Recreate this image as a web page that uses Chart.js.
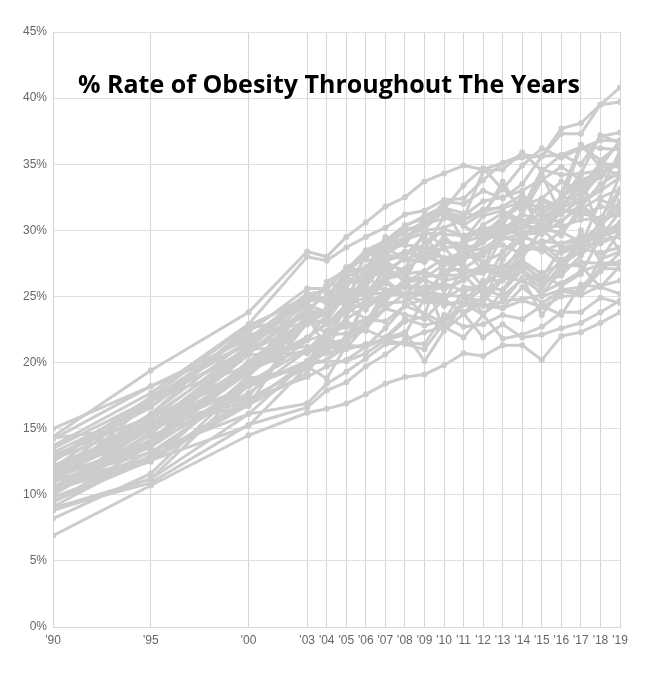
<!DOCTYPE html>
<html>
<head>
<meta charset="utf-8">
<script src="https://cdn.jsdelivr.net/npm/chart.js@4/dist/chart.umd.min.js"></script>
<style>
  html, body { margin: 0; padding: 0; background: #fff; }
  #wrap { position: relative; width: 651px; height: 682px; }
  #title { position: absolute; left: 78px; top: 66px; font-family: "Open Sans", sans-serif; font-weight: 700; font-size: 25px; line-height: normal; color: #000; white-space: nowrap; }
</style>
</head>
<body>
<div id="wrap">
  <canvas id="c" width="651" height="682"></canvas>
  <div id="title">% Rate of Obesity Throughout The Years</div>
</div>
<script>
const years = [1990, 1995, 2000, 2003, 2004, 2005, 2006, 2007, 2008, 2009, 2010, 2011, 2012, 2013, 2014, 2015, 2016, 2017, 2018, 2019];
const yTicks = [0, 5, 10, 15, 20, 25, 30, 35, 40, 45];

const AL = [13.2, 16.7, 22.6, 23.4, 26.1, 27.0, 28.4, 28.9, 30.1, 30.3, 32.2, 32.0, 33.0, 32.4, 33.5, 35.6, 35.7, 36.3, 36.2, 36.1];
const AK = [12.1, 14.9, 19.3, 23.5, 23.7, 26.0, 26.2, 27.3, 26.1, 25.0, 24.5, 27.4, 25.7, 28.4, 29.7, 29.8, 31.4, 34.2, 29.5, 30.5];
const AZ = [11.1, 13.2, 18.2, 20.1, 20.7, 21.1, 22.8, 25.4, 25.1, 25.5, 24.3, 24.7, 26.0, 26.8, 28.9, 28.4, 29.0, 29.5, 29.5, 31.4];
const AR = [12.7, 17.3, 19.7, 24.0, 25.1, 26.4, 26.0, 28.7, 29.5, 30.5, 30.9, 30.9, 34.5, 34.6, 35.9, 34.5, 35.7, 35.0, 37.1, 37.4];
const CA = [10.0, 14.2, 19.2, 23.2, 22.2, 22.7, 23.3, 23.1, 24.3, 24.8, 24.7, 23.8, 25.0, 24.1, 24.7, 24.2, 25.0, 25.1, 25.8, 26.2];
const CO = [6.9, 10.7, 14.5, 16.2, 16.5, 16.9, 17.6, 18.4, 18.9, 19.1, 19.8, 20.7, 20.5, 21.3, 21.3, 20.2, 22.0, 22.3, 23.0, 23.8];
const CT = [10.4, 12.8, 16.9, 20.1, 20.1, 20.1, 20.7, 21.7, 21.4, 21.0, 23.0, 24.5, 25.6, 25.0, 26.3, 25.3, 26.0, 26.9, 27.4, 27.4];
const DE = [14.3, 15.2, 16.7, 23.5, 21.1, 23.5, 26.0, 28.2, 27.8, 27.6, 28.7, 28.8, 26.9, 31.1, 30.7, 29.7, 30.7, 31.8, 33.5, 34.4];
const DC = [12.2, 15.2, 20.6, 20.7, 21.5, 21.7, 22.5, 21.8, 22.3, 20.1, 22.4, 23.7, 21.9, 22.9, 21.9, 22.1, 22.6, 23.0, 23.8, 24.7];
const FL = [10.1, 15.2, 18.2, 19.9, 22.4, 22.8, 23.1, 24.1, 25.2, 26.5, 26.6, 26.6, 25.2, 26.4, 26.2, 26.8, 27.4, 28.4, 30.7, 28.4];
const GA = [10.1, 14.7, 20.9, 23.0, 23.2, 26.5, 27.1, 28.7, 27.8, 27.7, 29.6, 28.0, 29.1, 30.3, 30.5, 30.7, 31.4, 31.6, 32.5, 33.1];
const HI = [8.9, 10.9, 15.3, 16.6, 17.9, 18.5, 19.7, 20.6, 21.7, 22.3, 22.7, 21.9, 23.6, 21.8, 22.1, 22.7, 23.8, 23.8, 24.9, 24.5];
const ID = [10.6, 13.6, 18.5, 21.0, 21.5, 24.5, 24.1, 25.1, 25.2, 25.1, 26.9, 27.1, 26.8, 29.6, 28.9, 28.6, 27.4, 29.3, 29.3, 29.5];
const IL = [12.1, 15.3, 20.9, 22.9, 23.2, 25.1, 25.1, 26.4, 26.9, 28.2, 28.7, 27.1, 28.1, 29.4, 29.3, 30.8, 31.6, 31.1, 31.8, 31.6];
const IN = [14.2, 18.2, 21.3, 25.0, 25.5, 27.2, 27.8, 27.4, 27.0, 30.0, 30.2, 30.8, 31.4, 31.8, 32.7, 31.3, 32.5, 33.6, 34.1, 35.3];
const IA = [13.5, 17.2, 20.8, 23.9, 23.9, 25.4, 25.7, 27.7, 26.7, 28.5, 29.1, 29.0, 30.4, 31.3, 30.4, 32.1, 32.0, 36.4, 35.3, 36.5];
const KS = [11.4, 13.9, 20.1, 23.2, 23.0, 23.9, 25.9, 27.7, 28.1, 28.8, 30.1, 29.6, 29.8, 30.0, 31.3, 34.2, 31.2, 32.4, 34.4, 35.2];
const KY = [12.7, 16.6, 22.3, 25.6, 25.6, 27.2, 28.0, 28.7, 30.3, 31.1, 31.8, 30.4, 31.3, 33.2, 31.6, 34.6, 34.2, 34.3, 37.2, 36.6];
const LA = [12.5, 17.4, 22.8, 24.8, 24.8, 27.0, 27.1, 29.5, 28.9, 31.0, 31.6, 33.4, 34.7, 33.1, 34.9, 36.2, 35.5, 36.2, 36.8, 36.8];
const ME = [11.3, 13.7, 19.7, 21.9, 23.0, 22.7, 23.1, 25.2, 26.0, 26.4, 27.4, 27.8, 28.4, 28.9, 28.2, 30.0, 29.9, 29.1, 30.4, 31.7];
const MD = [11.2, 15.8, 19.5, 21.0, 22.3, 24.4, 24.9, 26.3, 26.7, 26.9, 27.9, 28.3, 27.6, 28.3, 29.6, 28.9, 29.9, 31.3, 30.9, 31.2];
const MA = [8.8, 11.2, 16.1, 16.9, 18.4, 19.3, 20.3, 21.4, 21.5, 21.4, 23.6, 22.7, 22.9, 23.6, 23.3, 24.3, 23.6, 25.9, 25.7, 25.2];
const MI = [15.0, 18.2, 21.8, 25.2, 25.4, 24.4, 26.2, 28.2, 29.5, 30.3, 31.7, 31.3, 31.1, 31.5, 30.7, 31.2, 32.5, 32.3, 33.0, 36.0];
const MN = [10.5, 15.0, 17.4, 23.0, 23.1, 23.7, 24.7, 26.0, 25.2, 25.4, 24.8, 25.7, 25.7, 25.5, 27.6, 26.1, 27.8, 28.4, 30.1, 30.1];
const MS = [14.4, 19.4, 23.8, 28.4, 28.0, 29.5, 30.6, 31.8, 32.5, 33.7, 34.3, 34.9, 34.6, 35.1, 35.5, 35.6, 37.3, 37.3, 39.5, 40.8];
const MO = [12.0, 17.2, 21.6, 23.6, 23.9, 24.9, 27.2, 28.2, 29.1, 30.6, 31.4, 30.3, 29.6, 30.4, 30.2, 32.4, 31.7, 32.5, 35.0, 35.0];
const MT = [9.5, 12.6, 15.2, 19.7, 18.8, 21.3, 21.2, 22.6, 24.3, 23.7, 23.0, 24.6, 24.3, 24.6, 26.4, 23.6, 25.5, 25.3, 26.9, 28.3];
const NE = [10.4, 14.6, 20.6, 24.6, 24.9, 26.9, 26.9, 26.5, 27.1, 28.1, 27.4, 28.4, 28.6, 29.6, 30.2, 31.4, 32.0, 32.8, 34.1, 34.1];
const NV = [9.5, 13.3, 16.1, 20.1, 21.8, 21.2, 25.0, 24.6, 26.4, 26.4, 22.4, 24.5, 26.2, 26.2, 27.7, 26.7, 25.8, 26.7, 29.5, 30.0];
const NH = [10.2, 14.5, 17.2, 19.7, 22.0, 23.1, 22.4, 25.1, 25.2, 26.3, 25.5, 26.2, 27.3, 26.7, 27.4, 26.3, 26.6, 28.1, 29.6, 30.6];
const NJ = [9.0, 11.2, 18.3, 19.9, 20.1, 22.1, 22.6, 24.1, 23.6, 23.3, 24.8, 23.7, 24.6, 26.3, 26.9, 25.6, 27.4, 27.3, 25.7, 27.3];
const NM = [8.2, 11.6, 18.8, 19.6, 20.9, 21.7, 22.9, 25.1, 25.7, 25.6, 25.6, 26.3, 27.1, 26.4, 28.4, 28.8, 28.3, 28.8, 32.3, 31.7];
const NY = [10.5, 13.9, 17.7, 20.9, 22.1, 22.2, 22.9, 25.5, 25.1, 24.6, 24.5, 24.5, 23.6, 25.4, 27.0, 25.0, 25.5, 25.7, 27.1, 27.1];
const NC = [11.5, 17.2, 22.1, 23.0, 24.1, 25.9, 26.6, 28.7, 29.5, 30.1, 28.6, 29.1, 29.6, 29.4, 29.7, 30.1, 31.8, 32.1, 33.0, 34.0];
const ND = [11.4, 15.2, 19.8, 23.1, 24.0, 25.5, 25.2, 27.0, 27.8, 28.4, 27.9, 27.8, 29.7, 31.0, 32.2, 31.0, 31.9, 33.2, 35.1, 34.8];
const OH = [10.8, 17.1, 21.0, 24.9, 24.9, 24.3, 28.4, 28.1, 29.3, 29.8, 29.7, 29.6, 30.1, 30.4, 32.6, 29.8, 31.5, 33.8, 34.0, 35.5];
const OK = [12.1, 14.0, 19.6, 24.4, 23.8, 26.8, 28.1, 28.8, 29.9, 30.6, 31.3, 31.1, 32.2, 32.5, 33.0, 33.9, 32.8, 36.5, 34.8, 36.8];
const OR = [10.6, 14.0, 21.0, 21.2, 21.2, 21.8, 24.8, 26.3, 25.0, 23.6, 27.6, 26.7, 27.3, 26.5, 27.9, 30.1, 28.7, 29.0, 29.9, 29.9];
const PA = [13.0, 15.9, 20.9, 23.7, 23.9, 25.3, 24.0, 27.8, 28.4, 28.1, 29.2, 28.6, 29.1, 30.0, 30.2, 30.3, 30.3, 30.8, 30.9, 33.1];
const RI = [9.8, 12.6, 16.8, 19.2, 21.4, 21.0, 21.4, 21.7, 22.1, 24.9, 26.0, 25.4, 25.7, 27.3, 27.0, 26.0, 26.6, 30.0, 27.7, 30.0];
const SC = [11.8, 15.7, 21.3, 25.2, 24.5, 27.0, 28.5, 29.2, 30.1, 30.1, 31.5, 30.8, 31.6, 31.7, 32.1, 31.7, 32.3, 34.3, 34.5, 34.3];
const SD = [10.4, 12.5, 19.0, 22.9, 23.8, 25.5, 25.4, 26.5, 28.1, 29.6, 27.7, 28.1, 28.1, 29.9, 29.8, 30.4, 29.6, 31.9, 30.1, 33.0];
const TN = [11.5, 16.1, 22.7, 25.0, 24.5, 25.6, 28.0, 29.2, 30.4, 30.9, 31.7, 29.2, 31.1, 33.7, 31.2, 33.8, 34.8, 33.8, 34.4, 35.0];
const TX = [11.6, 16.1, 21.7, 24.6, 25.8, 26.1, 26.1, 28.6, 28.9, 28.7, 31.0, 30.4, 29.2, 30.9, 31.9, 32.4, 33.7, 33.0, 34.8, 34.8];
const UT = [9.1, 13.0, 18.4, 19.8, 20.2, 21.2, 21.2, 21.8, 23.1, 23.5, 22.5, 24.4, 24.3, 24.1, 25.7, 24.5, 25.4, 25.2, 27.8, 28.4];
const VT = [11.0, 12.7, 17.2, 18.9, 19.7, 20.2, 21.2, 21.9, 23.3, 22.8, 23.2, 25.4, 23.7, 24.7, 24.8, 25.1, 27.1, 27.6, 27.5, 27.6];
const VA = [11.3, 14.9, 18.2, 21.7, 23.7, 25.1, 25.1, 25.3, 25.8, 25.7, 26.0, 29.2, 27.4, 27.2, 28.5, 29.2, 29.0, 29.2, 30.4, 32.2];
const WA = [9.4, 13.8, 19.3, 21.7, 22.1, 23.3, 24.2, 25.4, 26.0, 26.9, 26.2, 26.5, 26.8, 27.2, 27.3, 26.4, 28.6, 28.6, 28.3, 28.7];
const WV = [13.7, 17.7, 22.9, 28.0, 27.7, 28.7, 29.5, 30.2, 31.2, 31.5, 32.3, 32.4, 33.8, 35.1, 35.7, 35.6, 37.7, 38.1, 39.5, 39.7];
const WI = [12.7, 15.5, 19.4, 21.9, 22.9, 24.4, 26.6, 25.3, 26.1, 29.2, 26.9, 27.7, 29.7, 29.8, 31.2, 30.7, 30.7, 32.0, 30.6, 34.2];
const WY = [10.6, 12.8, 17.2, 19.7, 21.6, 24.2, 23.3, 24.5, 24.6, 25.4, 25.1, 25.0, 24.6, 27.8, 29.5, 29.0, 27.7, 28.8, 29.0, 29.7];

const stateNames = ["AL","AK","AZ","AR","CA","CO","CT","DE","DC","FL","GA","HI","ID","IL","IN","IA","KS","KY","LA","ME","MD","MA","MI","MN","MS","MO","MT","NE","NV","NH","NJ","NM","NY","NC","ND","OH","OK","OR","PA","RI","SC","SD","TN","TX","UT","VT","VA","WA","WV","WI","WY"];
const stateValues = [AL,AK,AZ,AR,CA,CO,CT,DE,DC,FL,GA,HI,ID,IL,IN,IA,KS,KY,LA,ME,MD,MA,MI,MN,MS,MO,MT,NE,NV,NH,NJ,NM,NY,NC,ND,OH,OK,OR,PA,RI,SC,SD,TN,TX,UT,VT,VA,WA,WV,WI,WY];

const lineColor = 'rgb(204,204,204)';

const datasets = stateNames.map((name, i) => ({
  label: name,
  data: years.map((yr, j) => ({ x: yr, y: stateValues[i][j] })),
  borderColor: lineColor,
  backgroundColor: lineColor,
  borderWidth: 3,
  pointRadius: 3,
  pointBorderWidth: 0,
  pointBackgroundColor: lineColor,
  tension: 0,
  fill: false
}));

new Chart(document.getElementById('c'), {
  type: 'line',
  data: { datasets },
  options: {
    responsive: false,
    animation: false,
    events: [],
    layout: { padding: { left: 0, top: 32, right: 31, bottom: 27 } },
    plugins: { legend: { display: false }, tooltip: { enabled: false }, title: { display: false } },
    scales: {
      x: {
        type: 'linear',
        min: 1990,
        max: 2019,
        afterBuildTicks: (axis) => { axis.ticks = years.map(v => ({ value: v })); },
        afterFit: (axis) => { axis.height = 28; },
        grid: { color: '#d6d6d6', drawTicks: false },
        border: { color: '#d6d6d6' },
        ticks: {
          autoSkip: false,
          maxRotation: 0,
          padding: 6,
          color: '#666',
          font: { family: 'Liberation Sans, Arial, sans-serif', size: 12 },
          callback: (v) => "'" + String(v).slice(2)
        }
      },
      y: {
        min: 0,
        max: 45,
        afterBuildTicks: (axis) => { axis.ticks = yTicks.map(v => ({ value: v })); },
        afterFit: (axis) => { axis.width = 53; },
        grid: { color: '#e0e0e0', drawTicks: false },
        border: { color: '#d6d6d6' },
        ticks: {
          padding: 6,
          color: '#666',
          font: { family: 'Liberation Sans, Arial, sans-serif', size: 12 },
          callback: (v) => v + '%'
        }
      }
    }
  }
});
</script>
</body>
</html>
